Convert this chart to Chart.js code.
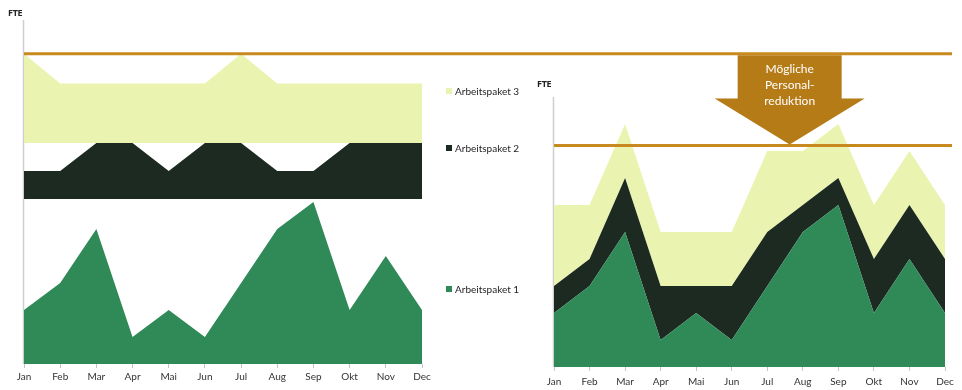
<!DOCTYPE html>
<html>
<head>
<meta charset="utf-8">
<script src="https://cdn.jsdelivr.net/npm/chart.js@4/dist/chart.umd.min.js"></script>
<style>
  html, body { margin: 0; padding: 0; background: #fff; }
  #wrap { position: relative; width: 962px; height: 390px; overflow: hidden; font-family: Lato, "Open Sans", sans-serif; }
  canvas { position: absolute; left: 0; top: 0; }
  .fte { position: absolute; font: bold 9px "Open Sans", sans-serif; color: #222; letter-spacing: -0.3px; }
  .leg { position: absolute; font: 10px Lato, sans-serif; color: #1e1e1e; white-space: nowrap; line-height: 12px; }
  .leg i { display: inline-block; width: 6px; height: 6px; margin-right: 3px; vertical-align: 1px; }
</style>
</head>
<body>
<div id="wrap">
  <canvas id="left" width="962" height="390"></canvas>
  <canvas id="right" width="962" height="390"></canvas>
  <div class="fte" style="left:8px;top:6px;">FTE</div>
  <div class="fte" style="left:537px;top:77px;">FTE</div>
  <div class="leg" style="left:446px;top:85px;"><i style="background:#eaf4b0"></i>Arbeitspaket 3</div>
  <div class="leg" style="left:446px;top:142px;"><i style="background:#1c2a21"></i>Arbeitspaket 2</div>
  <div class="leg" style="left:446px;top:283px;"><i style="background:#2f8a57"></i>Arbeitspaket 1</div>
</div>
<script>
// ---- data ----
const months = ['Jan','Feb','Mar','Apr','Mai','Jun','Jul','Aug','Sep','Okt','Nov','Dec'];
const arbeitspaket1 = [2, 3, 5, 1, 2, 1, 3, 5, 6, 2, 4, 2];
const arbeitspaket2 = [1, 1, 2, 2, 1, 2, 2, 1, 1, 2, 2, 2];
const arbeitspaket3 = [3, 2, 2, 2, 2, 2, 3, 2, 2, 2, 2, 2];
const capacityTop = 3;        // top of Arbeitspaket 3 band (left chart) = current capacity
const capacityReduced = 8.2;  // reduced capacity level (right chart, stacked FTE)
const arrowLabel = ['Mögliche', 'Personal-', 'reduktion'];

// ---- styles ----
const C_GREEN = '#2f8a57', C_DARK = '#1c2a21', C_LIGHT = '#eaf4b0';
const C_LINE = '#c88a1e', C_ARROW = '#b57b16';
const tickFont = { family: 'Lato, "Open Sans", sans-serif', size: 10 };
const zeros = months.map(() => 0);

function area(data, color, axis, fill) {
  return { data, yAxisID: axis, backgroundColor: color, borderColor: color, borderWidth: 0,
           pointRadius: 0, fill, tension: 0 };
}
function xAxis(pad) {
  return {
    type: 'category', offset: false,
    grid: { display: true, drawOnChartArea: false, drawTicks: true, tickLength: 4, color: '#c4c4c4' },
    border: { display: false },
    ticks: { font: tickFont, color: '#333', padding: pad, maxRotation: 0, autoSkip: false },
    afterFit: s => { s.height = 22; }
  };
}
const axisLine = {
  id: 'axisLine',
  beforeDatasetsDraw(chart) {
    const { ctx, chartArea: a } = chart;
    ctx.save();
    ctx.strokeStyle = '#cfcfcf'; ctx.lineWidth = 1.5;
    ctx.beginPath(); ctx.moveTo(a.left - 0.5, a.top); ctx.lineTo(a.left - 0.5, a.bottom); ctx.stroke();
    ctx.restore();
  }
};

// ---- left chart: separated bands ----
const leftChart = new Chart(document.getElementById('left'), {
  type: 'line',
  data: {
    labels: months,
    datasets: [
      area(arbeitspaket1, C_GREEN, 'y', 'origin'),
      area(zeros, 'rgba(0,0,0,0)', 'yD', false),
      area(arbeitspaket2, C_DARK, 'yD', '-1'),
      area(zeros, 'rgba(0,0,0,0)', 'yL', false),
      area(arbeitspaket3, C_LIGHT, 'yL', '-1')
    ]
  },
  options: {
    responsive: false, animation: false, devicePixelRatio: 1,
    layout: { padding: { left: 24, right: 540, top: 20, bottom: 4 } },
    plugins: { legend: { display: false }, tooltip: { enabled: false } },
    scales: {
      x: xAxis(3),
      y:  { display: false, min: 0, max: 12.74 },
      yD: { display: false, min: -5.89, max: 6.39 },
      yL: { display: false, min: -7.44, max: 4.14 }
    }
  },
  plugins: [axisLine, {
    id: 'capLine',
    afterDatasetsDraw(chart) {
      const { ctx, chartArea: a } = chart;
      const y = chart.scales.yL.getPixelForValue(capacityTop);
      ctx.save();
      ctx.strokeStyle = C_LINE; ctx.lineWidth = 3;
      ctx.beginPath(); ctx.moveTo(a.left, y); ctx.lineTo(chart.width - 10, y); ctx.stroke();
      ctx.restore();
    }
  }]
});

// ---- right chart: stacked ----
new Chart(document.getElementById('right'), {
  type: 'line',
  data: {
    labels: months,
    datasets: [
      area(arbeitspaket1, C_GREEN, 'y', 'origin'),
      area(arbeitspaket2, C_DARK, 'y', '-1'),
      area(arbeitspaket3, C_LIGHT, 'y', '-1')
    ]
  },
  options: {
    responsive: false, animation: false, devicePixelRatio: 1,
    layout: { padding: { left: 554, right: 17, top: 97, bottom: 1 } },
    plugins: { legend: { display: false }, tooltip: { enabled: false } },
    scales: {
      x: xAxis(5),
      y: { display: false, stacked: true, min: 0, max: 10 }
    }
  },
  plugins: [axisLine, {
    id: 'reduction',
    afterDatasetsDraw(chart) {
      const { ctx, chartArea: a } = chart;
      const yRed = chart.scales.y.getPixelForValue(capacityReduced);
      const yTop = leftChart.scales.yL.getPixelForValue(capacityTop) + 1.5;
      ctx.save();
      ctx.strokeStyle = C_LINE; ctx.lineWidth = 3;
      ctx.beginPath(); ctx.moveTo(a.left, yRed); ctx.lineTo(chart.width - 10, yRed); ctx.stroke();
      // arrow
      const cx = chart.scales.x.getPixelForValue(6.63);
      const shaftHalf = 52, headHalf = 75, headH = 46;
      const tipY = yRed - 1;
      ctx.fillStyle = C_ARROW;
      ctx.beginPath();
      ctx.moveTo(cx - shaftHalf, yTop);
      ctx.lineTo(cx + shaftHalf, yTop);
      ctx.lineTo(cx + shaftHalf, tipY - headH);
      ctx.lineTo(cx + headHalf, tipY - headH);
      ctx.lineTo(cx, tipY);
      ctx.lineTo(cx - headHalf, tipY - headH);
      ctx.lineTo(cx - shaftHalf, tipY - headH);
      ctx.closePath();
      ctx.fill();
      ctx.fillStyle = '#ffffff';
      ctx.font = '12px Lato, "Open Sans", sans-serif';
      ctx.textAlign = 'center'; ctx.textBaseline = 'middle';
      arrowLabel.forEach((t, i) => ctx.fillText(t, cx, yTop + 14 + i * 16));
      ctx.restore();
    }
  }]
});
</script>
</body>
</html>
